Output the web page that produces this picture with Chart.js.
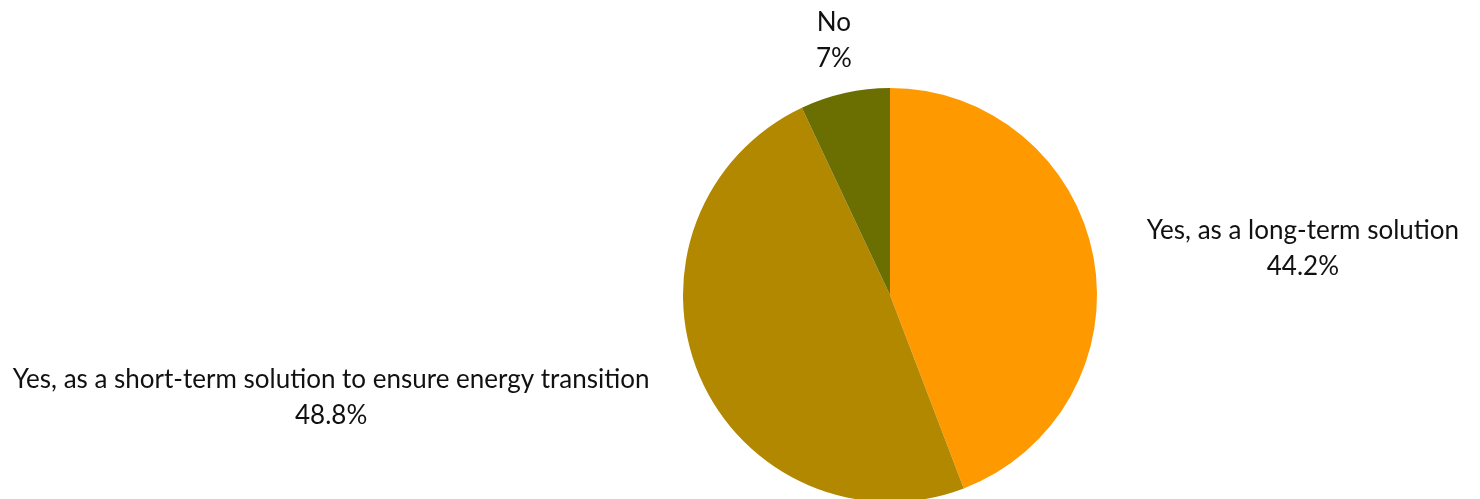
<!DOCTYPE html>
<html>
<head>
<meta charset="utf-8">
<script src="https://cdn.jsdelivr.net/npm/chart.js@4"></script>
<style>
  html, body { margin: 0; padding: 0; background: #fff; overflow: hidden; }
  #wrap { width: 1480px; height: 520px; }
</style>
</head>
<body>
<div id="wrap"><canvas id="pie"></canvas></div>
<script>
// answers and shares (%)
const labels = [
  "Yes, as a long-term solution",
  "Yes, as a short-term solution to ensure energy transition",
  "No"
];
const values = [44.2, 48.8, 7];
const valueText = ["44.2%", "48.8%", "7%"];
const colors = ["#FF9900", "#B28800", "#6B6E00"];

// outside-end labels: name on one line, percent below
const outsideLabels = {
  id: "outsideLabels",
  afterDatasetsDraw(chart) {
    const ctx = chart.ctx;
    const arcs = chart.getDatasetMeta(0).data;
    ctx.save();
    ctx.font = "26px Lato";
    ctx.fillStyle = "#111";
    ctx.textBaseline = "middle";
    arcs.forEach((arc, i) => {
      const mid = (arc.startAngle + arc.endAngle) / 2;
      const r = arc.outerRadius + 50;
      const x = arc.x + Math.cos(mid) * r;
      const y = arc.y + Math.sin(mid) * r;
      const c = Math.cos(mid);
      let align = "center";
      if (c > 0.7) align = "left";
      else if (c < -0.7) align = "right";
      const lines = [labels[i], valueText[i]];
      const w = Math.max(...lines.map(t => ctx.measureText(t).width));
      // centre each line within the label block
      let cx = x;
      if (align === "left") cx = x + 4 + w / 2;
      if (align === "right") cx = x - 4 - w / 2;
      ctx.textAlign = "center";
      const lh = 36;
      const top = y - lh / 2 + (align === "right" ? 2 : align === "center" ? -4 : 0);
      lines.forEach((t, k) => ctx.fillText(t, cx, top + k * lh));
    });
    ctx.restore();
  }
};

new Chart(document.getElementById("pie"), {
  type: "pie",
  data: {
    labels: labels,
    datasets: [{
      data: values,
      backgroundColor: colors,
      borderWidth: 0
    }]
  },
  options: {
    responsive: true,
    maintainAspectRatio: false,
    animation: false,
    layout: { padding: { left: 683, right: 383, top: 88, bottom: 18 } },
    plugins: {
      legend: { display: false },
      tooltip: { enabled: false }
    }
  },
  plugins: [outsideLabels]
});
</script>
</body>
</html>
